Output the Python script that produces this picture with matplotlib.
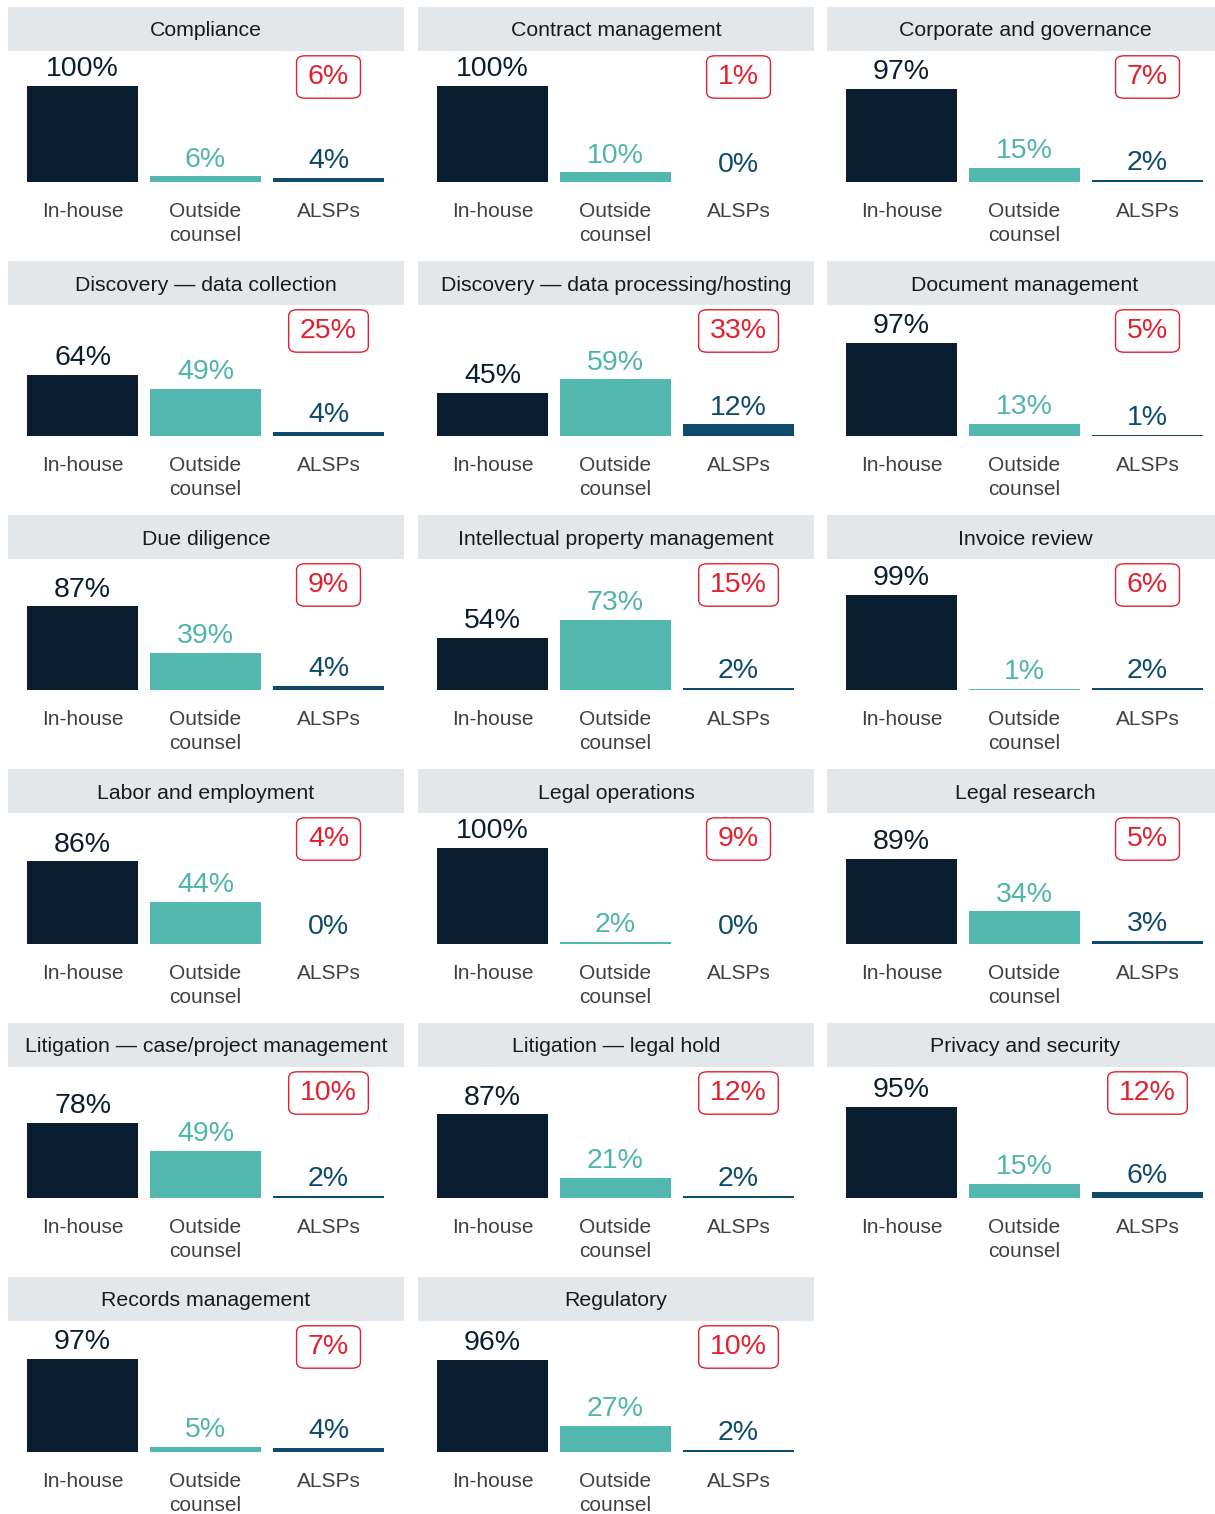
import matplotlib
matplotlib.use("Agg")
import matplotlib.pyplot as plt

plt.rcParams["font.family"] = ["Liberation Sans", "DejaVu Sans"]

# panel titles and values (% of respondents)
areas = ["Compliance", "Contract management", "Corporate and governance",
         "Discovery \u2014 data collection", "Discovery \u2014 data processing/hosting",
         "Document management", "Due diligence", "Intellectual property management",
         "Invoice review", "Labor and employment", "Legal operations", "Legal research",
         "Litigation \u2014 case/project management", "Litigation \u2014 legal hold",
         "Privacy and security", "Records management", "Regulatory"]
in_house = [100, 100, 97, 64, 45, 97, 87, 54, 99, 86, 100, 89, 78, 87, 95, 97, 96]
outside = [6, 10, 15, 49, 59, 13, 39, 73, 1, 44, 2, 34, 49, 21, 15, 5, 27]
alsps = [4, 0, 2, 4, 12, 1, 4, 2, 2, 0, 0, 3, 2, 2, 6, 4, 2]
flagged = [6, 1, 7, 25, 33, 5, 9, 15, 6, 4, 9, 5, 10, 12, 12, 7, 10]
bar_labels = ["In-house", "Outside\ncounsel", "ALSPs"]

bar_colors = ["#0b1d30", "#52b7ae", "#0e4a6a"]
label_colors = ["#0b1d30", "#4fb5ab", "#0e4a6a"]
red = "#e3202e"
band = "#e4e7ea"

W, H = 1215, 1514
fig = plt.figure(figsize=(W / 100, H / 100), dpi=100)

col_left = [8, 418, 827]
row_top = [7, 261, 515, 769, 1023, 1277]
pw, ph = 396, 254
k = 0.96          # px per percent
base = 175        # baseline offset from panel top (px)
ytop = base / k
ybot = -(ph - base) / k
xl = -74.5 / 123
xr = (pw - 74.5) / 123

for idx, name in enumerate(areas):
    r, c = divmod(idx, 3)
    left = col_left[c] / W
    bottom = 1 - (row_top[r] + ph) / H
    ax = fig.add_axes([left, bottom, pw / W, ph / H])
    ax.set_xlim(xl, xr)
    ax.set_ylim(ybot, ytop)
    ax.axis("off")

    # header band + title
    ax.axhspan((base - 44) / k, ytop, color=band, lw=0, zorder=0)
    ax.text((xl + xr) / 2, (base - 24) / k, name, ha="center", va="center",
            fontsize=15.3, color="#1a1a1a")

    vals = [in_house[idx], outside[idx], alsps[idx]]
    ax.bar(range(3), vals, width=111 / 123, color=bar_colors, zorder=2)
    for i, v in enumerate(vals):
        ax.annotate(f"{v}%", (i, v), xytext=(0, 7), textcoords="offset points",
                    ha="center", va="baseline", fontsize=20.5, color=label_colors[i])
        ax.annotate(bar_labels[i], (i, 0), xytext=(0, -14.5), textcoords="offset points",
                    ha="center", va="top", fontsize=15, color="#404040",
                    linespacing=1.3)

    # flagged value in red box
    ax.text(2, (base - 70) / k, f"{flagged[idx]}%", ha="center", va="center",
            fontsize=20.5, color=red,
            bbox=dict(boxstyle="round,pad=0.4,rounding_size=0.3", fc="white",
                      ec=red, lw=1, mutation_aspect=0.72))

fig.savefig("out.png", dpi=100)
